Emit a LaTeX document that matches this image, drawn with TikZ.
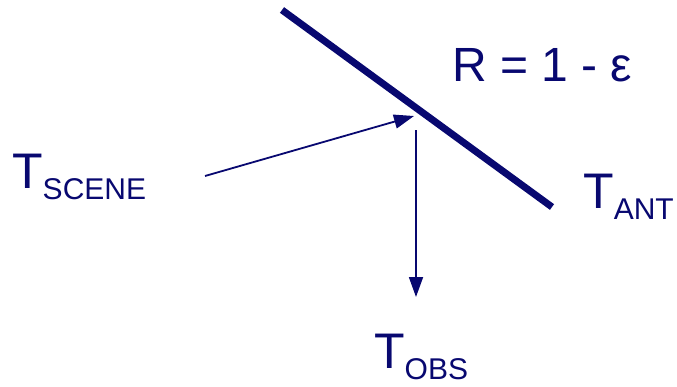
\documentclass[tikz,border=0pt]{standalone}
\usepackage{fontspec}
\setmainfont{Liberation Sans}
\usepackage{tikz}
\usetikzlibrary{positioning, arrows.meta}
\definecolor{navy}{RGB}{8,8,112}

\begin{document}
\begin{tikzpicture}[x=1pt, y=1pt]
    \tikzstyle{mirror} = [draw=navy, line width=7pt]
    \tikzstyle{ray} = [draw=navy, line width=1.8pt, -{Triangle[length=20pt, width=14pt]}]
    \tikzstyle{lbl} = [inner sep=0pt, anchor=base west, text=navy, font=\fontsize{50}{50}\selectfont]
    \newcommand{\subtxt}[1]{\raisebox{-11pt}{\fontsize{30}{30}\selectfont #1}}

    \useasboundingbox (0,0) rectangle (677,-386);

    % surface
    \coordinate (mtop) at (282,-10);
    \coordinate (mbot) at (552,-207);
    \draw [mirror] (mtop) -- (mbot);

    % rays
    \coordinate (src) at (205,-176);
    \coordinate (hit) at (414,-116);
    \coordinate (refl) at (416,-130);
    \coordinate (obs) at (416,-297);
    \draw [ray] (src) -- (hit);
    \draw [ray] (refl) -- (obs);

    % labels
    \node [lbl, font=\fontsize{48}{48}\selectfont] (rlabel) at (452,-81) {R = 1 - ε};
    \node [lbl] (scene) at (12,-188) {T\subtxt{SCENE}};
    \node [lbl] (ant) at (583,-208) {T\subtxt{ANT}};
    \node [lbl] (tobs) at (374,-368) {T\subtxt{OBS}};
\end{tikzpicture}
\end{document}
